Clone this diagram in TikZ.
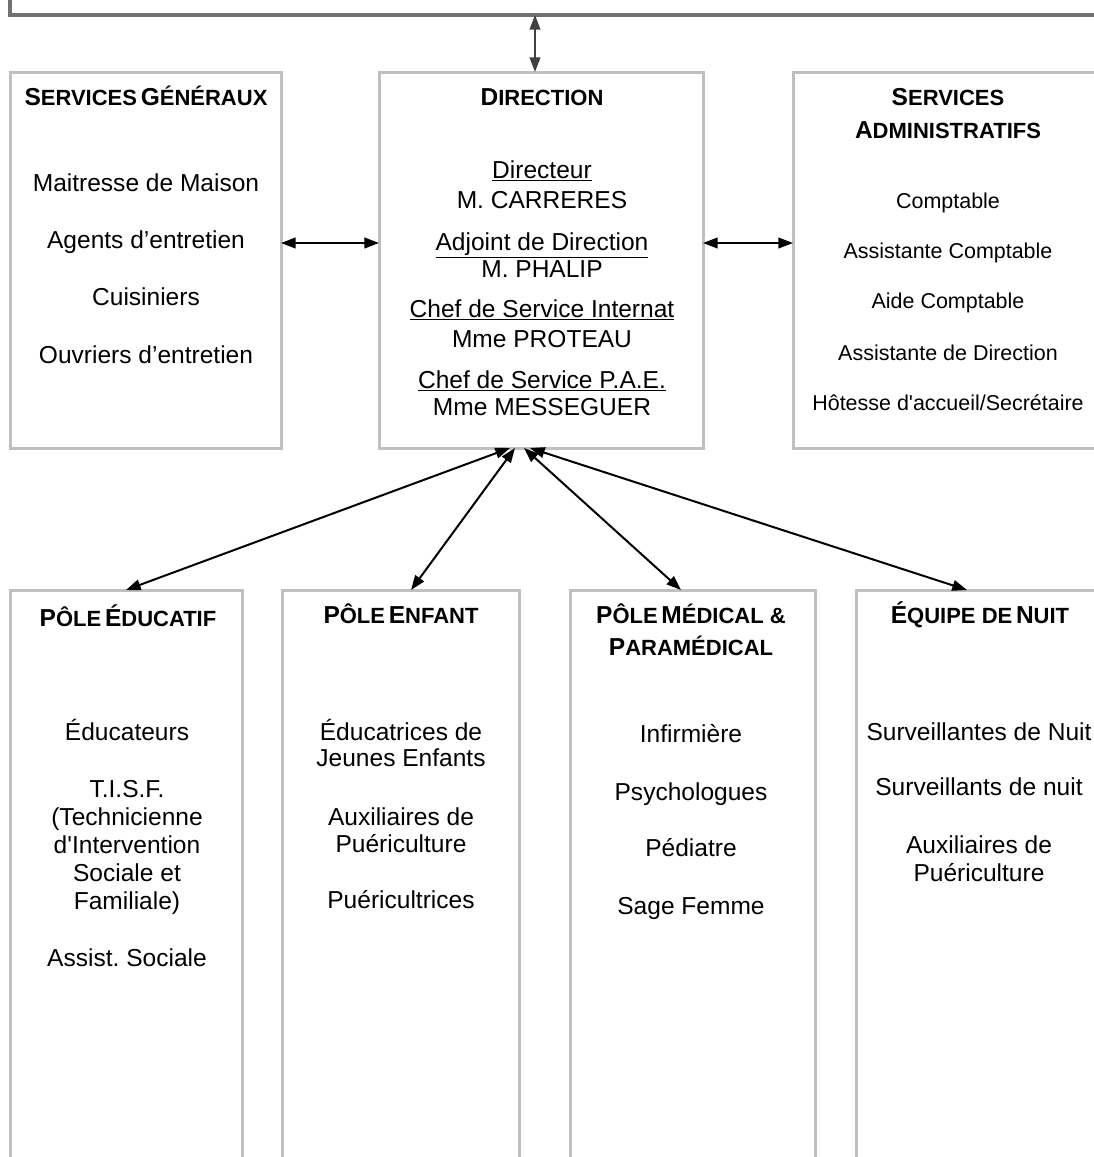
\documentclass[tikz,border=0pt]{standalone}
\usepackage{fontspec}
\setmainfont{Liberation Sans}
\usetikzlibrary{arrows.meta}
\definecolor{boxgray}{RGB}{192,192,192}
\definecolor{framegray}{RGB}{112,112,112}
\newcommand{\capsc}[2]{{\fontsize{18.4}{22}\selectfont #1}{\fontsize{16.5}{22}\selectfont #2}}
\frenchspacing

\begin{document}
\begin{tikzpicture}[x=0.75pt,y=0.75pt,yscale=-1,xscale=1,
  box/.style={draw=boxgray,line width=2.25pt,inner sep=0pt,outer sep=0pt},
  item/.style={anchor=base,inner sep=0pt,font=\fontsize{18.4}{22}\selectfont},
  itemsm/.style={anchor=base,inner sep=0pt,font=\fontsize{16.1}{20}\selectfont},
  head/.style={anchor=base,inner sep=0pt,font=\bfseries},
  link/.style={{Triangle[length=11pt,width=8pt]}-{Triangle[length=11pt,width=8pt]},line width=1.5pt}]
%set diagram to the page size
\clip (0,0) rectangle (1094,1157);

%Shape: Rectangle [top frame]
\node[box,draw=framegray,line width=3pt,minimum width=840pt,minimum height=56.25pt] (council) at (570,-22.5) {};

%Shape: Rectangle [middle row]
\node[box,minimum width=203.25pt,minimum height=282pt] (gen) at (145.5,260) {};
\node[box,minimum width=243pt,minimum height=282pt] (dir) at (541,260) {};
\node[box,minimum width=232.5pt,minimum height=282pt] (adm) at (948,260) {};

%Shape: Rectangle [bottom row]
\node[box,minimum width=174pt,minimum height=457.5pt] (edu) at (126,895) {};
\node[box,minimum width=177.75pt,minimum height=457.5pt] (enf) at (400.5,895) {};
\node[box,minimum width=183.75pt,minimum height=457.5pt] (med) at (692.5,895) {};
\node[box,minimum width=183pt,minimum height=457.5pt] (nuit) at (978,895) {};

% Text Node [services generaux]
\node[head] (gen-t) at (146,105) {\capsc{S}{ERVICES} \capsc{G}{ÉNÉRAUX}};
\node[item] (gen-1) at (146,191) {Maitresse de Maison};
\node[item] (gen-2) at (146,248) {Agents d’entretien};
\node[item] (gen-3) at (146,305) {Cuisiniers};
\node[item] (gen-4) at (146,363) {Ouvriers d’entretien};

% Text Node [direction]
\node[head] (dir-t) at (542,105) {\capsc{D}{IRECTION}};
\node[item] (dir-1) at (542,178) {\underline{Directeur}};
\node[item] (dir-2) at (542,208) {M. CARRERES};
\node[item] (dir-3) at (542,250) {\underline{Adjoint de Direction}};
\node[item] (dir-4) at (542,277) {M. PHALIP};
\node[item] (dir-5) at (542,317) {\underline{Chef de Service Internat}};
\node[item] (dir-6) at (542,347) {Mme PROTEAU};
\node[item] (dir-7) at (542,388) {\underline{Chef de Service P.A.E.}};
\node[item] (dir-8) at (542,415) {Mme MESSEGUER};

% Text Node [services administratifs]
\node[head] (adm-t1) at (948,105) {\capsc{S}{ERVICES}};
\node[head] (adm-t2) at (948,138) {\capsc{A}{DMINISTRATIFS}};
\node[itemsm] (adm-1) at (948,208) {Comptable};
\node[itemsm] (adm-2) at (948,258) {Assistante Comptable};
\node[itemsm] (adm-3) at (948,308) {Aide Comptable};
\node[itemsm] (adm-4) at (948,360) {Assistante de Direction};
\node[itemsm] (adm-5) at (948,410) {Hôtesse d\textquotesingle accueil/Secrétaire};

% Text Node [pole educatif]
\node[head] (edu-t) at (128,626) {\capsc{P}{ÔLE} \capsc{É}{DUCATIF}};
\node[item] (edu-1) at (127,740) {Éducateurs};
\node[item] (edu-2) at (127,797) {T.I.S.F.};
\node[item] (edu-3) at (127,825) {(Technicienne};
\node[item] (edu-4) at (127,853) {d\textquotesingle Intervention};
\node[item] (edu-5) at (127,881) {Sociale et};
\node[item] (edu-6) at (127,909) {Familiale)};
\node[item] (edu-7) at (127,966) {Assist. Sociale};

% Text Node [pole enfant]
\node[head] (enf-t) at (401,623) {\capsc{P}{ÔLE} \capsc{E}{NFANT}};
\node[item] (enf-1) at (401,740) {Éducatrices de};
\node[item] (enf-2) at (401,766) {Jeunes Enfants};
\node[item] (enf-3) at (401,825) {Auxiliaires de};
\node[item] (enf-4) at (401,852) {Puériculture};
\node[item] (enf-5) at (401,908) {Puéricultrices};

% Text Node [pole medical]
\node[head] (med-t1) at (691,623) {\capsc{P}{ÔLE} \capsc{M}{ÉDICAL \&}};
\node[head] (med-t2) at (691,655) {\capsc{P}{ARAMÉDICAL}};
\node[item] (med-1) at (691,742) {Infirmière};
\node[item] (med-2) at (691,800) {Psychologues};
\node[item] (med-3) at (691,856) {Pédiatre};
\node[item] (med-4) at (691,914) {Sage Femme};

% Text Node [equipe de nuit]
\node[head] (nuit-t) at (980,623) {\capsc{É}{QUIPE DE} \capsc{N}{UIT}};
\node[item] (nuit-1) at (979,740) {Surveillantes de Nuit};
\node[item] (nuit-2) at (979,795) {Surveillants de nuit};
\node[item] (nuit-3) at (979,853) {Auxiliaires de};
\node[item] (nuit-4) at (979,881) {Puériculture};

%Straight Lines [links]
\coordinate (row) at (0,243);
\coordinate (vlink) at (535,0);
\draw[link,draw=black!75] (council.south -| vlink) -- (dir.north -| vlink);
\draw[link] (gen.east |- row) -- (dir.west |- row);
\draw[link] (dir.east |- row) -- (adm.west |- row);
\draw[link] ([xshift=-23.25pt]dir.south) -- (edu.north);
\draw[link] ([xshift=-19.5pt]dir.south) -- ([xshift=7.9pt]enf.north);
\draw[link] ([xshift=-12.75pt]dir.south) -- ([xshift=-8.6pt]med.north);
\draw[link] ([xshift=-8.25pt]dir.south) -- ([xshift=-8.25pt]nuit.north);

\end{tikzpicture}
\end{document}
